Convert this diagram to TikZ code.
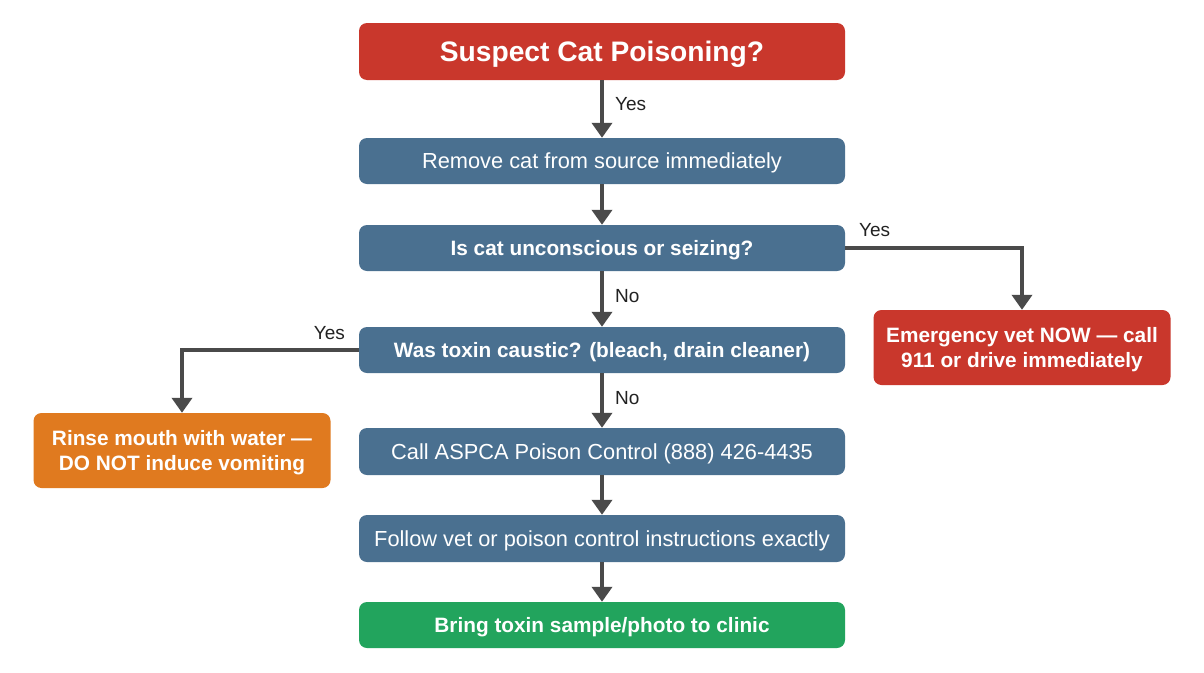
\documentclass[tikz,border=0pt]{standalone}
\usepackage{fontspec}
\setmainfont{Liberation Sans}
\usetikzlibrary{arrows.meta}
\definecolor{cred}{HTML}{C9372C}
\definecolor{cblue}{HTML}{4A7090}
\definecolor{corange}{HTML}{E07A1F}
\definecolor{cgreen}{HTML}{22A45D}
\definecolor{carrow}{HTML}{4A4A4A}
\definecolor{clabel}{HTML}{222222}
\tikzset{
  box/.style={rectangle, rounded corners=8pt, draw=none, text=white, align=center, inner sep=0pt, minimum width=486pt, minimum height=46pt, text depth=0pt},
  plain/.style={box, fill=cblue, font=\fontsize{21.8}{25}\selectfont},
  boldbox/.style={box, fill=cblue, font=\fontsize{20.8}{25}\selectfont\bfseries},
  sidebox/.style={box, minimum width=297pt, minimum height=75pt, font=\fontsize{20.8}{25}\selectfont\bfseries},
  conn/.style={draw=carrow, line width=4pt, -{Triangle[width=20pt,length=15pt]}},
  lab/.style={text=clabel, font=\fontsize{19}{22}\selectfont, inner sep=0pt}
}
\begin{document}
\begin{tikzpicture}[x=1pt,y=-1pt]
\fill[white] (0,0) rectangle (1204,672);
\useasboundingbox (0,0) rectangle (1204,672);
\node[box, fill=cred, minimum height=57pt, font=\fontsize{28.2}{32}\selectfont\bfseries] (start) at (602,51.5) {Suspect Cat Poisoning?};
\node[plain] (remove) at (602,161) {Remove cat from source immediately};
\node[boldbox] (uncon) at (602,248) {Is cat unconscious or seizing?};
\node[boldbox] (caustic) at (602,350) {Was toxin caustic? (bleach, drain cleaner)};
\node[plain, minimum height=47pt] (aspca) at (602,451.5) {Call ASPCA Poison Control (888) 426-4435};
\node[plain, minimum height=47pt] (follow) at (602,538.5) {Follow vet or poison control instructions exactly};
\node[boldbox, fill=cgreen] (bring) at (602,625) {Bring toxin sample/photo to clinic};
\node[sidebox, fill=corange] (rinse) at (182,450.5) {Rinse mouth with water —\\DO NOT induce vomiting};
\node[sidebox, fill=cred] (emerg) at (1022,347.5) {Emergency vet NOW — call\\911 or drive immediately};

\draw[conn] (start) -- (remove);
\draw[conn] (remove) -- (uncon);
\draw[conn] (uncon) -- (caustic);
\draw[conn] (caustic) -- (aspca);
\draw[conn] (aspca) -- (follow);
\draw[conn] (follow) -- (bring);
\draw[conn] (uncon.east) -| (emerg.north);
\draw[conn] (caustic.west) -| (rinse.north);

\node[lab, anchor=west] (l1) at (615,104) {Yes};
\node[lab, anchor=west] (l2) at (615,296) {No};
\node[lab, anchor=west] (l3) at (615,398) {No};
\node[lab, anchor=west] (l4) at (859,230) {Yes};
\node[lab, anchor=east] (l5) at (345,333) {Yes};
\end{tikzpicture}
\end{document}
